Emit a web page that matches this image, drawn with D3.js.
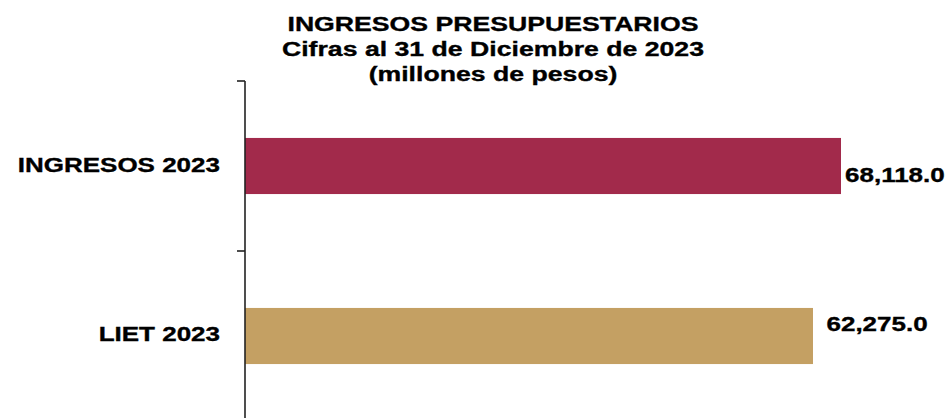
<!DOCTYPE html>
<html>
<head>
<meta charset="utf-8">
<script src="https://cdn.jsdelivr.net/npm/d3@7"></script>
<style>
  html, body { margin: 0; padding: 0; background: #fff; }
  svg { display: block; }
</style>
</head>
<body>
<div id="chart"></div>
<script>
// ---- Data ----
const categories = ["INGRESOS 2023", "LIET 2023"];
const values = [68118.0, 62275.0];
const valueLabels = ["68,118.0", "62,275.0"];
const titleLines = ["INGRESOS PRESUPUESTARIOS", "Cifras al 31 de Diciembre de 2023", "(millones de pesos)"];

// ---- Layout / style ----
const W = 947, H = 418;
const colors = ["#A22A4B", "#C4A063"];
const font = "'Liberation Sans', Arial, Helvetica, sans-serif";
const stretch = 1.3;       // horizontal text stretch seen in the reference
const axisMin = -56200;    // hidden value-axis minimum of the original chart

const svg = d3.select("#chart").append("svg")
  .attr("width", W).attr("height", H);

const x = d3.scaleLinear()
  .domain([axisMin, d3.max(values)])
  .range([245, 841]);

const y = d3.scaleBand()
  .domain(categories)
  .range([81, 421])
  .paddingInner(0.67)
  .paddingOuter(0.335);

function stretchedText(g, tx, ty, str, anchor, size) {
  return g.append("text")
    .attr("transform", `translate(${tx},${ty}) scale(${stretch},1)`)
    .attr("text-anchor", anchor)
    .attr("font-family", font)
    .attr("font-weight", "bold")
    .attr("font-size", size)
    .attr("fill", "#000")
    .attr("stroke", "#000")
    .attr("stroke-width", 0.35)
    .text(str);
}

// Title
const titleG = svg.append("g");
titleLines.forEach((t, i) => {
  stretchedText(titleG, 493, 31 + i * 25, t, "middle", 20.5);
});

// Bars
svg.append("g").selectAll("rect")
  .data(categories)
  .join("rect")
  .attr("x", x(axisMin))
  .attr("y", d => y(d))
  .attr("width", (d, i) => x(values[i]) - x(axisMin))
  .attr("height", y.bandwidth())
  .attr("fill", (d, i) => colors[i]);

// Category axis (ticks at band boundaries)
const axisG = svg.append("g");
const x0 = x(axisMin);
const boundaries = categories.map(c => y(c) - y.step() * y.paddingInner() / 2);
boundaries.push(y.range()[1]);
axisG.append("line")
  .attr("x1", x0).attr("x2", x0)
  .attr("y1", boundaries[0]).attr("y2", H + 5)
  .attr("stroke", "#222").attr("stroke-width", 1.6);
axisG.selectAll("line.tick")
  .data(boundaries)
  .join("line")
  .attr("class", "tick")
  .attr("x1", x0 - 8).attr("x2", x0)
  .attr("y1", d => d).attr("y2", d => d)
  .attr("stroke", "#222").attr("stroke-width", 1.6);

// Category labels
categories.forEach((c, i) => {
  const cy = y(c) + y.bandwidth() / 2;
  stretchedText(axisG, x0 - 25, cy + (i === 0 ? 6 : 4.5), c, "end", 20);
});

// Value labels (positioned like the manually placed labels of the original)
const labelOffsets = [[4, 15.5], [13.5, -5.5]];
const labG = svg.append("g");
categories.forEach((c, i) => {
  const cy = y(c) + y.bandwidth() / 2;
  stretchedText(labG, x(values[i]) + labelOffsets[i][0], cy + labelOffsets[i][1], valueLabels[i], "start", 20);
});
</script>
</body>
</html>
